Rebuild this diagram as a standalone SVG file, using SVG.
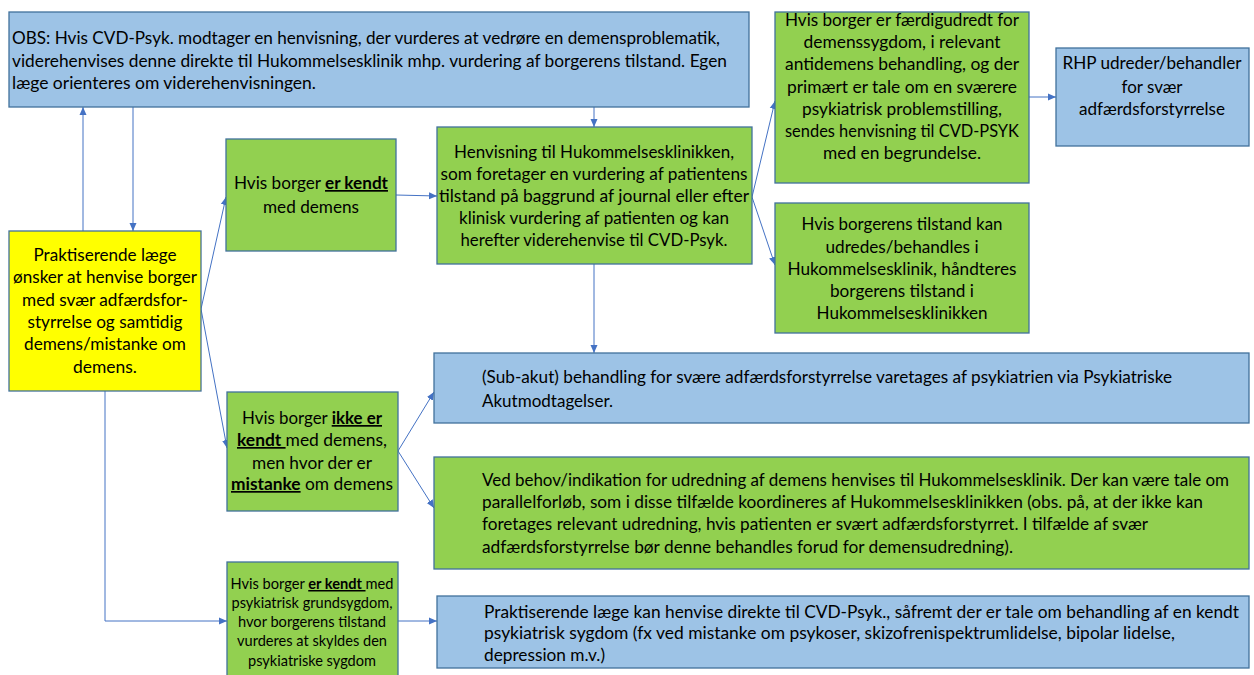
<svg xmlns="http://www.w3.org/2000/svg" width="1254" height="675" viewBox="0 0 1254 675">
<style>
.bb{fill:#9DC3E6;stroke:#41719C;stroke-width:1.3}
.bg{fill:#92D050;stroke:#41719C;stroke-width:1.3}
.by{fill:#FFFF00;stroke:#41719C;stroke-width:1.3}
text{font-family:Lato,"Noto Sans","Liberation Sans",sans-serif;font-size:17px;fill:#000}
.c{text-anchor:middle}
.s{font-size:15px}
.u{font-weight:bold;text-decoration:underline}
.conn{stroke:#4472C4;stroke-width:1;fill:none}
.ar{marker-end:url(#ah)}
</style>
<defs>
<marker id="ah" markerUnits="userSpaceOnUse" markerWidth="9" markerHeight="8" refX="8" refY="4" orient="auto">
<path d="M0,0.5 L8,4 L0,7.5 z" fill="#4472C4"/>
</marker>
</defs>
<rect width="1254" height="675" fill="#ffffff"/>

<g id="connectors">
<path class="conn ar" d="M83,231 L83,107"/>
<path class="conn ar" d="M133,107 L133,231"/>
<path class="conn ar" d="M201,309 L226,197"/>
<path class="conn ar" d="M201,309 L227,448"/>
<path class="conn ar" d="M396,195 L437,196"/>
<path class="conn ar" d="M594,107 L594,127"/>
<path class="conn ar" d="M594,264 L594,353"/>
<path class="conn ar" d="M752,197 L775,101"/>
<path class="conn ar" d="M752,197 L775,265"/>
<path class="conn ar" d="M1029,97 L1056,97"/>
<path class="conn ar" d="M398,451 L434,392"/>
<path class="conn ar" d="M398,451 L434,508"/>
<path class="conn ar" d="M105,391 L105,621 L227,621"/>
<path class="conn ar" d="M398,621 L437,621"/>
</g>

<g id="obs">
<rect class="bb" x="9" y="12" width="740" height="95"/>
<text x="12" y="44" textLength="708" lengthAdjust="spacingAndGlyphs">OBS: Hvis CVD-Psyk. modtager en henvisning, der vurderes at vedrøre en demensproblematik,</text>
<text x="12" y="67" textLength="715" lengthAdjust="spacingAndGlyphs">viderehenvises denne direkte til Hukommelsesklinik mhp. vurdering af borgerens tilstand. Egen</text>
<text x="12" y="89" textLength="304" lengthAdjust="spacingAndGlyphs">læge orienteres om viderehenvisningen.</text>
</g>

<g id="start">
<rect class="by" x="9" y="231" width="192" height="160"/>
<text class="c" x="105" y="261" textLength="143" lengthAdjust="spacingAndGlyphs">Praktiserende læge</text>
<text class="c" x="105" y="283" textLength="184" lengthAdjust="spacingAndGlyphs">ønsker at henvise borger</text>
<text class="c" x="105" y="306" textLength="166" lengthAdjust="spacingAndGlyphs">med svær adfærdsfor-</text>
<text class="c" x="105" y="328" textLength="155" lengthAdjust="spacingAndGlyphs">styrrelse og samtidig</text>
<text class="c" x="105" y="350" textLength="162" lengthAdjust="spacingAndGlyphs">demens/mistanke om</text>
<text class="c" x="105" y="373" textLength="64" lengthAdjust="spacingAndGlyphs">demens.</text>
</g>

<g id="kendt">
<rect class="bg" x="226" y="139" width="170" height="112"/>
<text class="c" x="311" y="189" textLength="154" lengthAdjust="spacingAndGlyphs">Hvis borger <tspan class="u">er kendt</tspan></text>
<text class="c" x="311" y="213" textLength="96" lengthAdjust="spacingAndGlyphs">med demens</text>
</g>

<g id="henvisning">
<rect class="bg" x="437" y="127" width="315" height="137"/>
<text class="c" x="594" y="158" textLength="280" lengthAdjust="spacingAndGlyphs">Henvisning til Hukommelsesklinikken,</text>
<text class="c" x="594" y="180" textLength="307" lengthAdjust="spacingAndGlyphs">som foretager en vurdering af patientens</text>
<text class="c" x="594" y="202" textLength="310" lengthAdjust="spacingAndGlyphs">tilstand på baggrund af journal eller efter</text>
<text class="c" x="594" y="224" textLength="270" lengthAdjust="spacingAndGlyphs">klinisk vurdering af patienten og kan</text>
<text class="c" x="594" y="246" textLength="267" lengthAdjust="spacingAndGlyphs">herefter viderehenvise til CVD-Psyk.</text>
</g>

<g id="faerdig">
<rect class="bg" x="775" y="12" width="254" height="171"/>
<text class="c" x="902" y="26" textLength="234" lengthAdjust="spacingAndGlyphs">Hvis borger er færdigudredt for</text>
<text class="c" x="902" y="48" textLength="197" lengthAdjust="spacingAndGlyphs">demenssygdom, i relevant</text>
<text class="c" x="902" y="70" textLength="234" lengthAdjust="spacingAndGlyphs">antidemens behandling, og der</text>
<text class="c" x="902" y="93" textLength="230" lengthAdjust="spacingAndGlyphs">primært er tale om en sværere</text>
<text class="c" x="902" y="115" textLength="200" lengthAdjust="spacingAndGlyphs">psykiatrisk problemstilling,</text>
<text class="c" x="902" y="137" textLength="234" lengthAdjust="spacingAndGlyphs">sendes henvisning til CVD-PSYK</text>
<text class="c" x="902" y="159" textLength="158" lengthAdjust="spacingAndGlyphs">med en begrundelse.</text>
</g>

<g id="rhp">
<rect class="bb" x="1056" y="48" width="193" height="98"/>
<text class="c" x="1152" y="69" textLength="179" lengthAdjust="spacingAndGlyphs">RHP udreder/behandler</text>
<text class="c" x="1152" y="93" textLength="61" lengthAdjust="spacingAndGlyphs">for svær</text>
<text class="c" x="1152" y="115" textLength="146" lengthAdjust="spacingAndGlyphs">adfærdsforstyrrelse</text>
</g>

<g id="hukommelse">
<rect class="bg" x="775" y="203" width="254" height="130"/>
<text class="c" x="902" y="230" textLength="201" lengthAdjust="spacingAndGlyphs">Hvis borgerens tilstand kan</text>
<text class="c" x="902" y="253" textLength="153" lengthAdjust="spacingAndGlyphs">udredes/behandles i</text>
<text class="c" x="902" y="275" textLength="229" lengthAdjust="spacingAndGlyphs">Hukommelsesklinik, håndteres</text>
<text class="c" x="902" y="297" textLength="144" lengthAdjust="spacingAndGlyphs">borgerens tilstand i</text>
<text class="c" x="902" y="319" textLength="171" lengthAdjust="spacingAndGlyphs">Hukommelsesklinikken</text>
</g>

<g id="ikkekendt">
<rect class="bg" x="227" y="392" width="171" height="119"/>
<text class="c" x="312" y="424" textLength="140" lengthAdjust="spacingAndGlyphs">Hvis borger <tspan class="u">ikke er</tspan></text>
<text class="c" x="312" y="446" textLength="150" lengthAdjust="spacingAndGlyphs"><tspan class="u">kendt </tspan>med demens,</text>
<text class="c" x="312" y="469" textLength="120" lengthAdjust="spacingAndGlyphs">men hvor der er</text>
<text class="c" x="312" y="490" textLength="162" lengthAdjust="spacingAndGlyphs"><tspan class="u">mistanke</tspan> om demens</text>
</g>

<g id="subakut">
<rect class="bb" x="434" y="353" width="815" height="70"/>
<text x="482" y="383" textLength="690" lengthAdjust="spacingAndGlyphs">(Sub-akut) behandling for svære adfærdsforstyrrelse varetages af psykiatrien via Psykiatriske</text>
<text x="482" y="407" textLength="131" lengthAdjust="spacingAndGlyphs">Akutmodtagelser.</text>
</g>

<g id="udredning">
<rect class="bg" x="434" y="457" width="815" height="112"/>
<text x="482" y="486" textLength="747" lengthAdjust="spacingAndGlyphs">Ved behov/indikation for udredning af demens henvises til Hukommelsesklinik. Der kan være tale om</text>
<text x="482" y="508" textLength="721" lengthAdjust="spacingAndGlyphs">parallelforløb, som i disse tilfælde koordineres af Hukommelsesklinikken (obs. på, at der ikke kan</text>
<text x="482" y="530" textLength="666" lengthAdjust="spacingAndGlyphs">foretages relevant udredning, hvis patienten er svært adfærdsforstyrret. I tilfælde af svær</text>
<text x="482" y="553" textLength="531" lengthAdjust="spacingAndGlyphs">adfærdsforstyrrelse bør denne behandles forud for demensudredning).</text>
</g>

<g id="psykiatrisk">
<rect class="bg" x="227" y="562" width="171" height="122"/>
<text class="c s" x="312" y="589" textLength="163" lengthAdjust="spacingAndGlyphs">Hvis borger <tspan class="u">er kendt </tspan>med</text>
<text class="c s" x="312" y="608" textLength="161" lengthAdjust="spacingAndGlyphs">psykiatrisk grundsygdom,</text>
<text class="c s" x="312" y="627" textLength="148" lengthAdjust="spacingAndGlyphs">hvor borgerens tilstand</text>
<text class="c s" x="312" y="646" textLength="150" lengthAdjust="spacingAndGlyphs">vurderes at skyldes den</text>
<text class="c s" x="312" y="666" textLength="128" lengthAdjust="spacingAndGlyphs">psykiatriske sygdom</text>
</g>

<g id="direkte">
<rect class="bb" x="437" y="596" width="812" height="72"/>
<text x="484" y="618" textLength="755" lengthAdjust="spacingAndGlyphs">Praktiserende læge kan henvise direkte til CVD-Psyk., såfremt der er tale om behandling af en kendt</text>
<text x="484" y="639" textLength="691" lengthAdjust="spacingAndGlyphs">psykiatrisk sygdom (fx ved mistanke om psykoser, skizofrenispektrumlidelse, bipolar lidelse,</text>
<text x="484" y="661" textLength="121" lengthAdjust="spacingAndGlyphs">depression m.v.)</text>
</g>
</svg>
